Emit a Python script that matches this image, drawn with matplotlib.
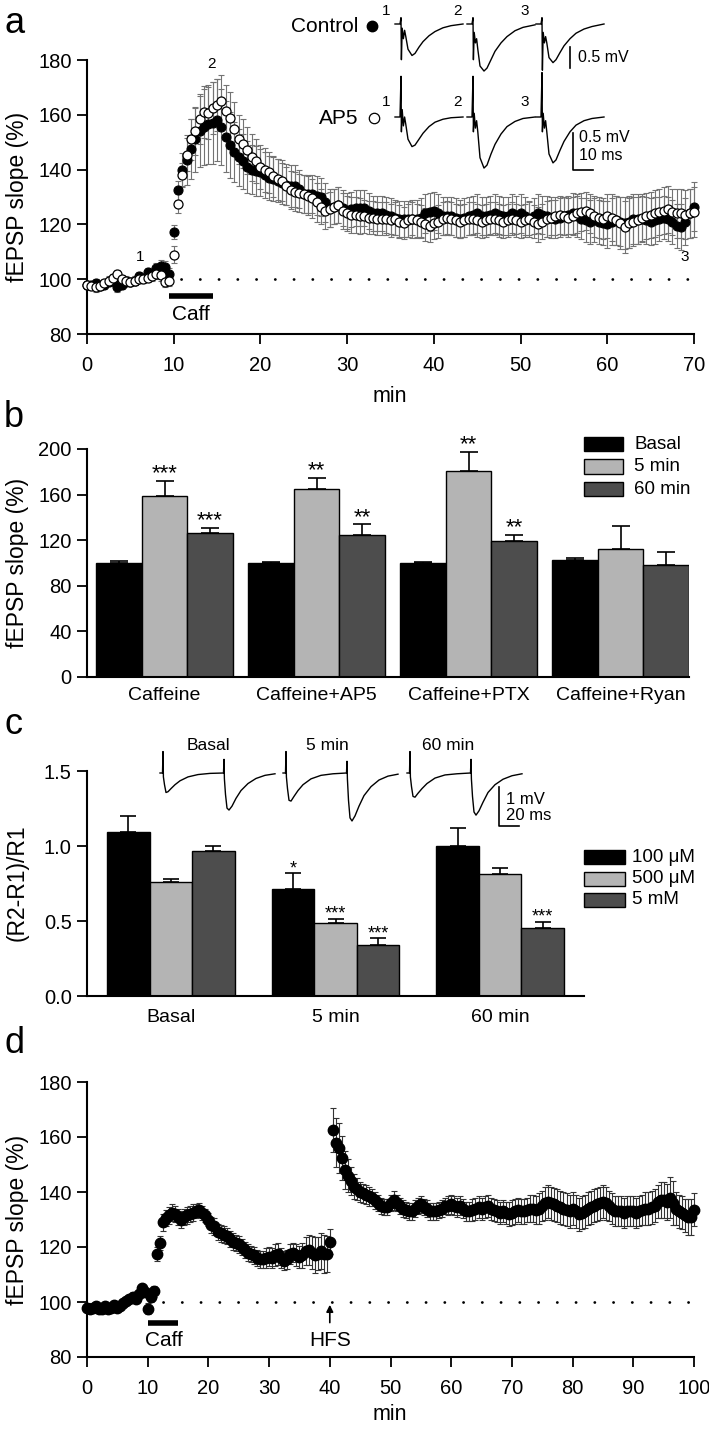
import numpy as np
import matplotlib
matplotlib.use("Agg")
import matplotlib.pyplot as plt
from matplotlib.patches import Rectangle
from matplotlib.lines import Line2D

plt.rcParams['font.family'] = ['Liberation Sans', 'DejaVu Sans']

# ---------------- data: panel a (fEPSP slope, % of baseline) ----------------
t_a = np.arange(0, 70.5, 0.5)
ctl_a = [98, 98, 98.5, 97.5, 98, 99, 99.5, 97, 98, 99, 99, 99.5, 101, 100.5, 102.5, 102, 104, 105, 104.5, 102,
         117.3, 132.5, 140, 143.5, 147.5, 151, 154, 155.5, 156.5, 157, 158, 155.5, 152, 149, 146.5, 144.5, 143, 141, 140, 139.5,
         139, 138, 137, 136.5, 136, 135, 134.5, 134, 134, 133, 131, 131, 131, 130.5, 130, 128, 126, 126.5, 127, 126,
         125, 125.5, 126, 126, 126, 125, 124, 124, 124, 123.5, 123, 122.5, 122, 122, 122, 122, 122, 122.5, 124, 124.5,
         125, 124, 123, 123, 123, 122.5, 122, 122.5, 123, 123.5, 124, 123, 123, 123.5, 124, 123.5, 123, 123, 124, 123.5,
         124, 123, 122, 123, 124, 123.5, 123, 122.5, 122, 122.5, 123, 123.5, 124, 123, 122, 121.5, 121, 121.5, 121, 120.5,
         120, 121, 121.5, 121, 120.5, 121, 122, 122, 122, 121.5, 121, 121.5, 122, 122.5, 122, 121, 119.5, 119, 121, 124,
         126.5]
ctl_a_err = [1.5, 1.5, 1.5, 1.5, 1.5, 1.5, 1.5, 1.5, 1.5, 1.5, 1.5, 1.5, 1.5, 1.5, 1.5, 1.5, 2, 2, 2, 2,
             2.5, 3.5, 6, 9, 11, 12, 13, 14, 14.5, 15, 15, 14, 13, 12, 11, 10.5, 10, 9.5, 9, 9,
             8.5, 8.5, 8, 8, 8, 7.5, 7.5, 7.5, 7.5, 7, 7, 7, 7, 7, 7, 7, 7, 6.5, 6.5, 6.5,
             6.5, 6.5, 6.5, 6.5, 6.5, 6.5, 6.5, 6.5, 6.5, 6.5, 6.5, 6.5, 6.5, 6.5, 6.5, 7, 7, 7, 7, 7,
             7, 7, 7, 7, 7, 7, 7, 7, 7, 7, 7, 7, 7, 7, 7, 7, 7, 7, 7, 7,
             7, 7, 6.5, 6.5, 7, 7, 7.5, 7.5, 7, 7, 7, 7, 7.5, 7.5, 7.5, 8, 8, 8, 8, 8,
             8.5, 8.5, 9, 9, 9.5, 9.5, 9, 9, 8.5, 8.5, 8.5, 8.5, 8, 8, 8, 8, 8, 8.5, 8.5, 9,
             9]
ap5_a = [98, 97.5, 97, 97.5, 98.5, 99.5, 100.5, 102, 100, 99.5, 99, 99.5, 100, 100, 100.5, 101, 102, 101.5, 99, 99.5,
         109, 127.5, 138, 145.5, 151, 154, 158.5, 161, 160.5, 162.5, 163.5, 165, 161.5, 159, 155, 151, 149.5, 147, 144.5, 143,
         141, 140, 139, 137.5, 136.5, 136, 134, 132.5, 132, 131.5, 131, 130.5, 129.5, 128, 126.5, 125, 125.5, 126.5, 127, 125,
         124, 123.5, 123.5, 123, 123, 122.5, 122.5, 122, 122, 122, 121.5, 122, 121, 120.5, 121.5, 122, 121.5, 121, 120, 119.5,
         120.5, 121, 122, 122.5, 122, 121.5, 121, 121.5, 122, 122, 121.5, 121, 121.5, 122, 122, 121.5, 121, 121.5, 122, 121.5,
         121, 121.5, 122, 121, 120, 121, 122, 122.5, 123, 123.5, 123, 122.5, 123, 124, 124.5, 125, 124, 123, 122.5, 122,
         123, 122.5, 121.5, 120.5, 119, 120.5, 121, 121.5, 122.5, 123, 123.5, 124, 124.5, 125, 125.5, 124.5, 124, 124, 123.5, 124,
         124.5]
ap5_a_err = [1.5, 1.5, 1.5, 1.5, 1.5, 1.5, 1.5, 1.5, 1.5, 1.5, 1.5, 1.5, 1.5, 1.5, 1.5, 1.5, 2, 2, 2, 2,
             3, 3.5, 4.5, 6, 7.5, 8.5, 9, 9.5, 9.5, 9.5, 9.5, 9.5, 9.5, 9.5, 9.5, 9, 9, 8.5, 8.5, 8,
             8, 8, 7.5, 7.5, 7.5, 7.5, 7, 7, 7, 7, 7, 7, 7, 7, 6.5, 6.5, 6.5, 6.5, 6.5, 6.5,
             6.5, 6.5, 6.5, 6.5, 6, 6, 6, 6, 6, 6, 6, 6, 6, 6, 6, 6, 6, 6, 6, 6,
             6, 6, 6, 6, 6, 6, 6, 6, 6, 6, 6, 6, 6, 6, 6, 6, 6, 6, 6, 6,
             6, 6, 6, 6, 6.5, 6.5, 6.5, 6.5, 7, 7, 7, 7, 7, 7, 7, 7, 7, 7.5, 7.5, 7.5,
             8, 8.5, 9, 9.5, 9.5, 9, 9, 8.5, 8.5, 8.5, 8.5, 8.5, 8.5, 8.5, 8.5, 8.5, 9, 9, 9, 9,
             9]

# example fEPSP traces for panel a (ms, mV)
wave_t_a = [0, 2.5, 3.0, 3.2, 3.6, 4.2, 4.8, 5.4, 6.5, 8.5, 10, 12, 14, 17, 20, 24, 28, 34]
ctl_traces = [
    [0, 0, 0.15, -0.85, -0.1, -0.35, -0.15, -0.3, -0.6, -0.75, -0.7, -0.55, -0.42, -0.28, -0.18, -0.09, -0.04, 0],
    [0, 0, 0.15, -0.85, -0.2, -0.45, -0.35, -0.6, -1.0, -1.12, -1.05, -0.85, -0.65, -0.45, -0.3, -0.16, -0.08, -0.02],
    [0, 0, 0.15, -1.1, -0.2, -0.45, -0.3, -0.45, -0.8, -0.92, -0.85, -0.68, -0.52, -0.35, -0.22, -0.12, -0.06, 0],
]
ap5_traces = [
    [0, 0, 0.55, -0.2, 0.1, -0.12, 0.0, -0.1, -0.3, -0.4, -0.38, -0.3, -0.22, -0.13, -0.07, -0.03, -0.01, 0],
    [0, 0, 0.55, -0.2, 0.05, -0.15, -0.05, -0.2, -0.55, -0.69, -0.65, -0.5, -0.37, -0.23, -0.13, -0.06, -0.02, 0],
    [0, 0, 0.6, -0.2, 0.05, -0.15, -0.05, -0.2, -0.5, -0.62, -0.58, -0.45, -0.33, -0.2, -0.11, -0.05, -0.02, 0],
]
trace_nums = ['1', '2', '3']

# ---------------- data: panel b ----------------
b_groups = ['Caffeine', 'Caffeine+AP5', 'Caffeine+PTX', 'Caffeine+Ryan']
b_series = ['Basal', '5 min', '60 min']
b_vals = [[100.1, 99.6, 99.9, 102.2],
          [159, 164.9, 181, 112.4],
          [126.5, 124.5, 119.2, 98.4]]
b_err = [[2, 1, 0.8, 2],
         [13, 9.6, 16.7, 20],
         [4.5, 9.3, 5.3, 11.1]]
b_stars = [['', '', '', ''],
           ['***', '**', '**', ''],
           ['***', '**', '**', '']]

# ---------------- data: panel c ----------------
c_groups = ['Basal', '5 min', '60 min']
c_series = ['100 \u03bcM', '500 \u03bcM', '5 mM']
c_vals = [[1.095, 0.714, 0.999],
          [0.759, 0.487, 0.812],
          [0.966, 0.343, 0.452]]
c_err = [[0.105, 0.106, 0.121],
         [0.021, 0.029, 0.043],
         [0.034, 0.042, 0.042]]
c_stars = [['', '*', ''],
           ['', '***', ''],
           ['', '***', '***']]

# paired-pulse traces for panel c (ms, mV)
wave_t_c = [0, 2.5, 3, 3.4, 4.5, 6, 8, 11, 15, 20, 28, 38, 50, 63.5, 64, 64.4, 65.5, 67, 69, 72, 76, 81, 88, 96, 105, 115]
pp_traces = [
    [0, 0, 0.55, -0.1, -0.3, -0.5, -0.48, -0.4, -0.3, -0.2, -0.1, -0.04, -0.01, 0, 0.35, -0.15, -0.55, -0.9, -0.95, -0.85, -0.65, -0.45, -0.27, -0.14, -0.06, -0.02],
    [0, 0, 0.55, -0.1, -0.4, -0.7, -0.72, -0.6, -0.45, -0.3, -0.15, -0.06, -0.02, 0, 0.3, -0.15, -0.7, -1.15, -1.23, -1.1, -0.85, -0.58, -0.35, -0.18, -0.08, -0.03],
    [0, 0, 0.55, -0.1, -0.35, -0.6, -0.62, -0.52, -0.4, -0.27, -0.13, -0.05, -0.02, 0, 0.35, -0.15, -0.6, -1.0, -1.08, -0.97, -0.75, -0.5, -0.3, -0.16, -0.07, -0.02],
]
pp_labels = ['Basal', '5 min', '60 min']

# ---------------- data: panel d ----------------
t_d1 = np.arange(0, 40.5, 0.5)
d1 = [98, 97.5, 98, 98.5, 97.5, 97.5, 98.5, 97.5, 98, 99, 98, 98.5, 99.5, 100.5, 101, 102, 101, 103, 105, 103.5,
      97.5, 102, 104, 117.5, 121.5, 129, 130.5, 131.5, 132.5, 132, 131, 130, 131, 131.5, 132, 132.5, 133, 133.5, 132.5, 131.5,
      130, 128, 127.5, 125.5, 125, 124.5, 124, 123, 122, 121.5, 121, 120, 119, 118, 117.5, 117, 116, 115.5, 115.5, 116,
      116.5, 116, 117, 117.5, 116, 115, 115.5, 117.5, 118, 117, 116.5, 117, 118.5, 119, 118, 117, 117.5, 118.5, 117.5, 117.5,
      122]
d1_err = [1.5, 1.5, 1.5, 1.5, 1.5, 1.5, 1.5, 1.5, 1.5, 1.5, 1.5, 1.5, 1.5, 1.5, 1.5, 1.5, 1.5, 1.5, 1.5, 1.5,
          2, 2, 2, 2.5, 2.5, 3, 3, 3, 3, 3, 3, 3, 3, 3, 3, 3, 2.5, 2.5, 2.5, 2.5,
          2.5, 3, 3, 3, 3, 3, 3, 3, 3, 3, 3, 3, 3, 3, 3, 3, 3, 3, 3, 3.5,
          3.5, 3.5, 4, 4, 3.5, 3.5, 3.5, 3.5, 3.5, 4, 4, 4.5, 5, 5.5, 6, 6.5, 6, 6.5, 7, 6.5,
          4.5]
t_d2 = np.arange(40.5, 100.5, 0.5)
d2 = [162.5, 158, 156, 152.5, 148, 146, 144, 142, 141, 140, 139.5, 139, 138.5, 138, 137, 136, 135, 134.5, 134.5,
      136, 137, 136, 135, 134, 133.5, 133, 133, 134, 135, 135.5, 134.5, 134, 133, 133, 133, 133.5, 134, 135, 135,
      135.5, 135, 134.5, 135, 134, 133, 133, 133.5, 134, 134.5, 134, 134.5, 135, 134, 133.5, 133, 132.5, 133, 132.5, 132,
      132.5, 133, 133.5, 133, 133, 133.5, 134, 134, 133.5, 134, 135, 136, 136.5, 136, 135.5, 135, 134.5, 134, 133.5, 133,
      134, 133, 132, 132.5, 133, 134, 134.5, 135, 135.5, 136, 136.5, 136, 135, 134, 133, 133, 133, 132.5, 133, 133,
      133, 132.5, 133, 133.5, 134, 134, 134.5, 135, 136.5, 137, 137, 136.5, 138, 136, 134, 133, 132.5, 131.5, 131, 131,
      133.5]
d2_err = [8, 9, 9, 8, 7, 6, 5, 4.5, 4, 3.5, 3.5, 3.5, 3.5, 3, 3, 3, 3, 3, 3,
          3, 3.5, 3, 3, 3, 3, 3, 3, 3, 3, 3, 3, 3, 3, 3, 3, 3, 3, 3, 3.5,
          3.5, 3.5, 3.5, 3.5, 3.5, 3.5, 3.5, 4, 4, 4, 4, 4, 4, 4, 4, 4, 4, 4, 4, 4.5,
          4.5, 4.5, 4.5, 4.5, 4.5, 4.5, 5, 5, 5, 5.5, 5.5, 6, 6, 6, 6, 6, 6, 6, 6, 6,
          6, 6, 6, 6, 6, 6, 6, 6, 6, 6, 6, 6, 5.5, 5.5, 5.5, 5.5, 5.5, 5.5, 5.5, 5.5,
          5.5, 5.5, 5.5, 5.5, 6, 6, 6, 6, 6, 6.5, 6.5, 6.5, 7.5, 8, 6, 6, 6, 6, 6.5, 6.5,
          6]

bar_colors = ['#000000', '#b4b4b4', '#4d4d4d']

# ---------------- layout helpers (pixel coords, origin top-left) ----------------
W, H = 709, 1431
fig = plt.figure(figsize=(W / 100, H / 100), dpi=100)


def add_ax(left, top, right, bottom):
    return fig.add_axes([left / W, 1 - bottom / H, (right - left) / W, (bottom - top) / H])


def ftext(x, y, s, **kw):
    return fig.text(x / W, 1 - y / H, s, **kw)


def style(ax, ticklen=7):
    for s in ('top', 'right'):
        ax.spines[s].set_visible(False)
    for s in ('left', 'bottom'):
        ax.spines[s].set_linewidth(1.5)
    ax.tick_params(direction='out', length=ticklen, width=1.3, labelsize=14.5, pad=4)


def trace_ax(left, top, right, bottom, base_y, px_ms, px_mv):
    tax = add_ax(left, top, right, bottom)
    tax.set_xlim(0, (right - left) / px_ms)
    tax.set_ylim(-(bottom - base_y) / px_mv, (base_y - top) / px_mv)
    tax.axis('off')
    return tax


def dotted(ax, x0, x1):
    ax.plot([x0, x1], [100, 100], color='k', lw=2, ls=(0, (0.05, 6.7)),
            dash_capstyle='round', zorder=1)


YL = 16.5

# ================= panel a =================
ax = add_ax(87, 60, 694, 334)
style(ax)
ax.set_xlim(0, 70)
ax.set_ylim(80, 180)
ax.set_xticks(range(0, 71, 10))
ax.set_yticks(range(80, 181, 20))
ax.tick_params(axis='x', pad=9)
dotted(ax, 10.8, 70)
ax.errorbar(t_a, ctl_a, yerr=ctl_a_err, fmt='none', ecolor='0.45', elinewidth=0.8,
            capsize=2.5, capthick=0.8, zorder=2, clip_on=False)
ax.errorbar(t_a, ap5_a, yerr=ap5_a_err, fmt='none', ecolor='0.45', elinewidth=0.8,
            capsize=2.5, capthick=0.8, zorder=2, clip_on=False)
ax.plot(t_a, ctl_a, 'o', ms=6.5, mfc='k', mec='k', mew=0.8, zorder=3, clip_on=False)
ax.plot(t_a, ap5_a, 'o', ms=6.5, mfc='white', mec='k', mew=0.9, zorder=4, clip_on=False)
ax.plot([9.5, 14.5], [93.8, 93.8], color='k', lw=4, solid_capstyle='butt')
ax.text(12, 87, 'Caff', ha='center', va='center', fontsize=15)
ax.text(6.1, 108, trace_nums[0], ha='center', va='center', fontsize=11)
ax.text(14.3, 178.5, trace_nums[1], ha='center', va='center', fontsize=11)
ax.text(68.9, 108, trace_nums[2], ha='center', va='center', fontsize=11)
ftext(390, 396, 'min', ha='center', va='center', fontsize=15.5)
ftext(18, 197, 'fEPSP slope (%)', ha='center', va='center', rotation=90, fontsize=YL)
ftext(4, 33, 'a', ha='left', va='baseline', fontsize=26)

# traces: control row and AP5 row
starts_px = [395, 467, 536]
tax = trace_ax(380, 0, 640, 80, 24, 2.0, 42.0)
for st, tr in zip(starts_px, ctl_traces):
    tax.plot(np.array(wave_t_a) + (st - 380) / 2.0, tr, color='k', lw=1.0)
tax.plot([(570 - 380) / 2.0] * 2, [-(47 - 24) / 42.0, -(47 - 24) / 42.0 - 0.5], color='k', lw=1.2)
tax2 = trace_ax(380, 70, 640, 180, 117, 2.0, 74.0)
for st, tr in zip(starts_px, ap5_traces):
    tax2.plot(np.array(wave_t_a) + (st - 380) / 2.0, tr, color='k', lw=1.0)
xb = (573 - 380) / 2.0
yb = -(170 - 117) / 74.0
tax2.plot([xb, xb, xb + 10], [yb + 0.5, yb, yb], color='k', lw=1.2)
for x, num in zip([386, 457, 525], trace_nums):
    ftext(x, 11, num, ha='center', va='center', fontsize=11)
    ftext(x, 102, num, ha='center', va='center', fontsize=11)
ftext(578, 58, '0.5 mV', ha='left', va='center', fontsize=11.5)
ftext(579, 137, '0.5 mV', ha='left', va='center', fontsize=11.5)
ftext(579, 155, '10 ms', ha='left', va='center', fontsize=11.5)
ftext(358, 26, 'Control', ha='right', va='center', fontsize=15)
ftext(358, 118, 'AP5', ha='right', va='center', fontsize=15)
fig.add_artist(Line2D([372 / W], [1 - 26 / H], marker='o', ms=7.5, mfc='k', mec='k',
                      transform=fig.transFigure))
fig.add_artist(Line2D([374 / W], [1 - 118 / H], marker='o', ms=7.5, mfc='white', mec='k',
                      mew=0.9, transform=fig.transFigure))

# ================= panel b =================
ax = add_ax(87, 449, 689, 677)
style(ax)
ax.set_ylim(0, 200)
ax.set_yticks(range(0, 201, 40))
ax.set_xlim(-0.51, 3.45)
xb_ = np.arange(len(b_groups))
bw = 0.30
for i in range(len(b_series)):
    pos = xb_ + (i - 1) * bw
    ax.bar(pos, b_vals[i], bw, color=bar_colors[i], edgecolor='k', lw=1,
           yerr=[np.zeros(len(b_groups)), b_err[i]], capsize=6.5,
           error_kw=dict(elinewidth=1.2, capthick=1.2, ecolor='k'), zorder=2)
    for p, v, e, s in zip(pos, b_vals[i], b_err[i], b_stars[i]):
        if s:
            ax.annotate(s, (p, v + e), xytext=(0, 1), textcoords='offset points',
                        ha='center', va='baseline', fontsize=16)
ax.set_xticks(xb_)
ax.set_xticklabels(b_groups, fontsize=14)
ax.tick_params(axis='x', length=0, pad=7)
ftext(18, 563, 'fEPSP slope (%)', ha='center', va='center', rotation=90, fontsize=YL)
ftext(4, 427, 'b', ha='left', va='baseline', fontsize=26)
for i, (lab, yc) in enumerate(zip(b_series, [444, 466.5, 489])):
    fig.add_artist(Rectangle((584 / W, 1 - (yc + 7) / H), 39 / W, 14 / H, facecolor=bar_colors[i],
                             edgecolor='k', lw=1, transform=fig.transFigure))
    ftext(634, yc, lab, ha='left', va='center', fontsize=13.5)

# ================= panel c =================
ax = add_ax(87, 771, 584, 996)
style(ax)
ax.set_ylim(0, 1.5)
ax.set_yticks([0, 0.5, 1.0, 1.5])
ax.set_yticklabels(['0.0', '0.5', '1.0', '1.5'])
ax.set_xlim(-0.51, 2.51)
xc = np.arange(len(c_groups))
cw = 0.258
for i in range(len(c_series)):
    pos = xc + (i - 1) * cw
    ax.bar(pos, c_vals[i], cw, color=bar_colors[i], edgecolor='k', lw=1,
           yerr=[np.zeros(len(c_groups)), c_err[i]], capsize=5.8,
           error_kw=dict(elinewidth=1.2, capthick=1.2, ecolor='k'), zorder=2)
    for p, v, e, s in zip(pos, c_vals[i], c_err[i], c_stars[i]):
        if s:
            ax.annotate(s, (p, v + e), xytext=(0, 0), textcoords='offset points',
                        ha='center', va='baseline', fontsize=13)
ax.set_xticks(xc)
ax.set_xticklabels(c_groups, fontsize=14)
ax.tick_params(axis='x', length=0, pad=9)
ftext(17, 883, '(R2-R1)/R1', ha='center', va='center', rotation=90, fontsize=YL)
ftext(4, 734, 'c', ha='left', va='baseline', fontsize=26)
for i, (lab, yc) in enumerate(zip(c_series, [857, 878.5, 900])):
    fig.add_artist(Rectangle((584 / W, 1 - (yc + 7) / H), 41 / W, 14 / H, facecolor=bar_colors[i],
                             edgecolor='k', lw=1, transform=fig.transFigure))
    ftext(632, yc, lab, ha='left', va='center', fontsize=13.5)

# paired-pulse traces
tax3 = trace_ax(150, 740, 530, 835, 773, 1.0, 39.0)
for st, tr in zip([160, 283, 407], pp_traces):
    tax3.plot(np.array(wave_t_c) + (st - 150), tr, color='k', lw=1.0)
xs = 499 - 150
ys = -(826 - 773) / 39.0
tax3.plot([xs, xs, xs + 20], [ys + 1, ys, ys], color='k', lw=1.2)
for x, lab in zip([208, 327, 448], pp_labels):
    ftext(x, 745, lab, ha='center', va='center', fontsize=12.5)
ftext(506, 799, '1 mV', ha='left', va='center', fontsize=12)
ftext(506, 816, '20 ms', ha='left', va='center', fontsize=12)

# ================= panel d =================
ax = add_ax(87, 1082, 694, 1357)
style(ax)
ax.set_xlim(0, 100)
ax.set_ylim(80, 180)
ax.set_xticks(range(0, 101, 10))
ax.set_yticks(range(80, 181, 20))
ax.tick_params(axis='x', pad=9)
dotted(ax, 12.5, 100)
for tt, vv, ee in ((t_d1, d1, d1_err), (t_d2, d2, d2_err)):
    ax.errorbar(tt, vv, yerr=ee, fmt='none', ecolor='0.2', elinewidth=0.8,
                capsize=2.5, capthick=0.8, zorder=2, clip_on=False)
    ax.plot(tt, vv, 'o', ms=7.5, mfc='k', mec='k', zorder=3, clip_on=False)
ax.plot([10, 15], [92.2, 92.2], color='k', lw=4, solid_capstyle='butt')
ax.text(12.7, 86, 'Caff', ha='center', va='center', fontsize=15)
ax.annotate('', xy=(40, 100), xytext=(40, 91.5),
            arrowprops=dict(arrowstyle='-|>', color='k', lw=1.2, mutation_scale=10))
ax.text(40, 86, 'HFS', ha='center', va='center', fontsize=15)
ftext(390, 1414, 'min', ha='center', va='center', fontsize=15.5)
ftext(18, 1220, 'fEPSP slope (%)', ha='center', va='center', rotation=90, fontsize=YL)
ftext(4, 1053, 'd', ha='left', va='baseline', fontsize=26)

fig.savefig('out.png', dpi=100)
